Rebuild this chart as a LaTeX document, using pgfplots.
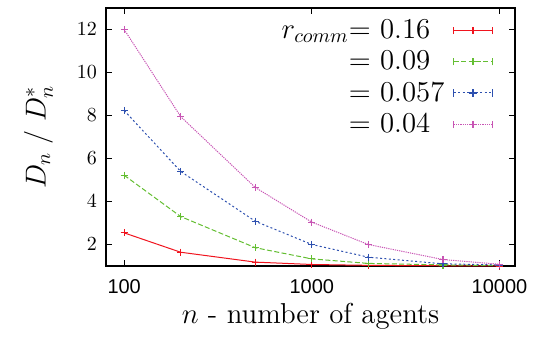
\documentclass[border=0pt]{standalone}
\usepackage{pgfplots}
\pgfplotsset{compat=1.18}
\usepackage{fontspec}
\newfontfamily\ticksans{Liberation Sans}
\definecolor{cred}{RGB}{240,20,30}
\definecolor{cgreen}{RGB}{100,190,50}
\definecolor{cblue}{RGB}{45,80,175}
\definecolor{cmag}{RGB}{200,85,180}
\begin{document}
\begin{tikzpicture}
\begin{axis}[
  scale only axis,
  width=204.5pt, height=129pt,
  xmode=log, log basis x=10,
  xmin=80, xmax=12100, ymin=1, ymax=13,
  xtick={100,1000,10000},
  xticklabels={100,1000,10000},
  ytick={2,4,6,8,10,12},
  tick align=inside,
  major tick length=3pt, minor tick length=1.6pt,
  tick style={black, line width=0.4pt},
  axis line style={line width=0.6pt},
  ticklabel style={font=\ticksans\fontsize{10}{12}\selectfont},
  xticklabel style={yshift=-3pt},
  yticklabel style={xshift=-1pt},
  xlabel={$n$ - number of agents},
  ylabel={$D_n\;/\;D_n^{*}$},
  label style={font=\fontsize{14.4}{17}\selectfont},
  xlabel style={yshift=2pt},
  ylabel style={at={(axis description cs:-0.165,0.5)}, anchor=center},
  legend style={at={(rel axis cs:0.946,0.965)}, anchor=north east, draw=none, fill=none,
    font=\fontsize{14.4}{15}\selectfont, row sep=2.5pt, column sep=3.5pt, inner sep=0pt,
    nodes={inner sep=1pt}},
  legend cell align=left,
  legend plot pos=right,
  legend image code/.code={
    \draw[mark repeat=2,mark phase=2,#1] plot coordinates {(0cm,0cm)(0.335cm,0cm)(0.67cm,0cm)};
    \draw[#1,solid,mark=none] (0cm,-1.8pt)--(0cm,1.8pt) (0.67cm,-1.8pt)--(0.67cm,1.8pt);
  },
  every axis plot/.append style={line width=0.5pt, mark=+, mark size=1.8pt, mark options={solid, line width=0.6pt}},
  clip=false,
]
\addplot[cred, solid] coordinates {(100,2.54)(200,1.64)(500,1.18)(1000,1.07)(2000,1.03)(5000,1.01)(10000,1.00)};
\addlegendentry{\llap{$r_{comm}$}$=$ 0.16}
\addplot[cgreen, dashed, dash pattern=on 2.5pt off 1.2pt] coordinates {(100,5.22)(200,3.30)(500,1.85)(1000,1.33)(2000,1.12)(5000,1.05)(10000,1.02)};
\addlegendentry{$=$ 0.09}
\addplot[cblue, dash pattern=on 1pt off 1.2pt] coordinates {(100,8.23)(200,5.40)(500,3.08)(1000,2.00)(2000,1.41)(5000,1.10)(10000,1.05)};
\addlegendentry{$=$ 0.057}
\addplot[cmag, dash pattern=on 0.6pt off 0.5pt] coordinates {(100,12.0)(200,7.95)(500,4.65)(1000,3.04)(2000,2.00)(5000,1.30)(10000,1.08)};
\addlegendentry{$=$ 0.04}
\coordinate (bl) at (rel axis cs:0,0);
\coordinate (tr) at (rel axis cs:1,1);
\end{axis}
\pgfresetboundingbox
\path[use as bounding box] ([xshift=-53pt,yshift=-40pt]bl) rectangle ([xshift=11pt,yshift=4pt]tr);
\end{tikzpicture}
\end{document}
